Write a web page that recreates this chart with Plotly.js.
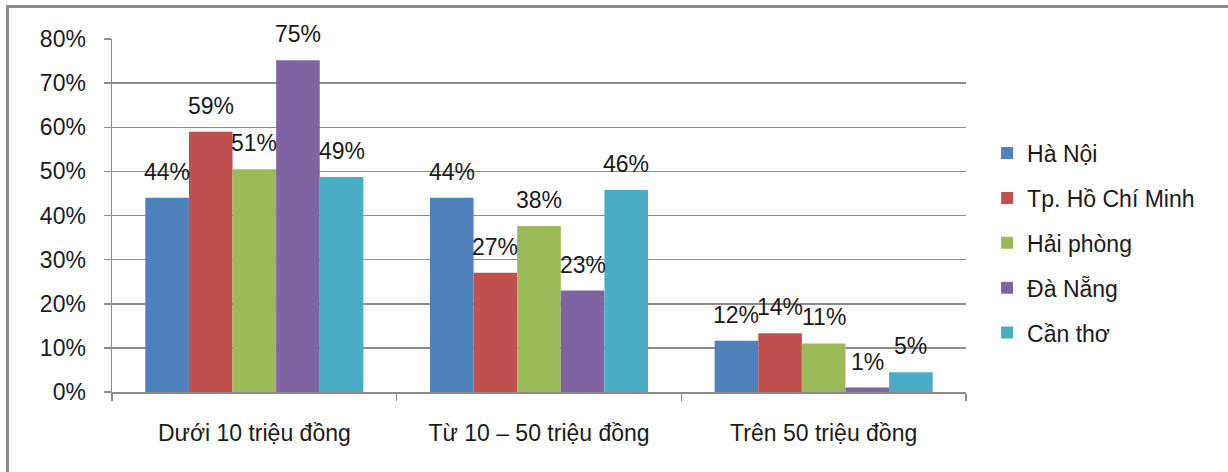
<!DOCTYPE html>
<html>
<head>
<meta charset="utf-8">
<script src="https://cdn.plot.ly/plotly-3.0.1.min.js"></script>
<style>
  html, body { margin: 0; padding: 0; background: #fff; }
  #wrap { position: relative; width: 1228px; height: 472px; }
  #chart { position: absolute; left: 0; top: 0; width: 1228px; height: 472px; }
  #frame { position: absolute; left: 6px; top: 5px; right: -4px; bottom: -4px;
           border-top: 3px solid #8c8c8c; border-left: 3px solid #8c8c8c; pointer-events: none; }
</style>
</head>
<body>
<div id="wrap"><div id="chart"></div><div id="frame"></div></div>
<script>
const categories = ["Dưới 10 triệu đồng", "Từ 10 – 50 triệu đồng", "Trên 50 triệu đồng"];
const seriesNames = ["Hà Nội", "Tp. Hồ Chí Minh", "Hải phòng", "Đà Nẵng", "Cần thơ"];
const colors = ["#4F81BD", "#C0504D", "#9BBB59", "#8064A2", "#4BACC6"];

const haNoi      = [0.44, 0.44, 0.116];
const hoChiMinh  = [0.59, 0.27, 0.133];
const haiPhong   = [0.505, 0.376, 0.11];
const daNang     = [0.752, 0.23, 0.01];
const canTho     = [0.487, 0.458, 0.045];

const haNoiLabels     = ["44%", "44%", "12%"];
const hoChiMinhLabels = ["59%", "27%", "14%"];
const haiPhongLabels  = ["51%", "38%", "11%"];
const daNangLabels    = ["75%", "23%", "1%"];
const canThoLabels    = ["49%", "46%", "5%"];

const yTickVals = [0, 0.1, 0.2, 0.3, 0.4, 0.5, 0.6, 0.7, 0.8];

const values = [haNoi, hoChiMinh, haiPhong, daNang, canTho];
const labels = [haNoiLabels, hoChiMinhLabels, haiPhongLabels, daNangLabels, canThoLabels];

const FONT = "Liberation Sans, Arial, sans-serif";
const FS = 23;
const TXT = "#1a1a1a";
const bargap = 0.234;
const n = seriesNames.length;
const barW = (1 - bargap) / n;

const traces = seriesNames.map((name, k) => ({
  type: "bar",
  name: name,
  x: categories,
  y: values[k],
  legendgroup: "g" + k,
  marker: { color: colors[k], line: { width: 0 } },
  hoverinfo: "none"
}));

const annotations = [];
seriesNames.forEach((name, k) => {
  const off = -(1 - bargap) / 2 + barW * (k + 0.5);
  categories.forEach((c, i) => {
    annotations.push({
      x: i + off, y: values[k][i], xref: "x", yref: "y",
      text: labels[k][i], showarrow: false,
      yanchor: "middle", xanchor: "center", yshift: 26,
      font: { family: FONT, size: FS, color: TXT }
    });
  });
});

const layout = {
  width: 1228, height: 472,
  margin: { l: 112, r: 262, t: 39, b: 80, pad: 0 },
  paper_bgcolor: "#ffffff", plot_bgcolor: "#ffffff",
  barmode: "group", bargap: bargap, bargroupgap: 0,
  font: { family: FONT, size: FS, color: TXT },
  showlegend: true,
  legend: {
    x: 1.0247, xanchor: "left", y: 0.422, yanchor: "middle",
    font: { family: FONT, size: FS, color: TXT },
    tracegroupgap: 12, itemwidth: 30, bgcolor: "rgba(0,0,0,0)"
  },
  xaxis: {
    type: "category", tickson: "boundaries", ticks: "outside", ticklen: 7,
    tickcolor: "#8c8c8c", tickwidth: 1.5,
    showline: true, linecolor: "#8c8c8c", linewidth: 1.5,
    showgrid: false, zeroline: false, ticklabelstandoff: 20,
    tickfont: { family: FONT, size: FS, color: TXT }
  },
  yaxis: {
    range: [0, 0.8], tickvals: yTickVals, tickformat: ".0%",
    ticks: "outside", ticklen: 7, tickcolor: "#8c8c8c", tickwidth: 1.5,
    showline: true, linecolor: "#8c8c8c", linewidth: 1.5,
    showgrid: true, gridcolor: "#8c8c8c", gridwidth: 1.5,
    zeroline: false, ticklabelstandoff: 13,
    tickfont: { family: FONT, size: FS, color: TXT }
  },
  annotations: annotations
};

Plotly.newPlot("chart", traces, layout, { displayModeBar: false, staticPlot: true });
</script>
</body>
</html>
